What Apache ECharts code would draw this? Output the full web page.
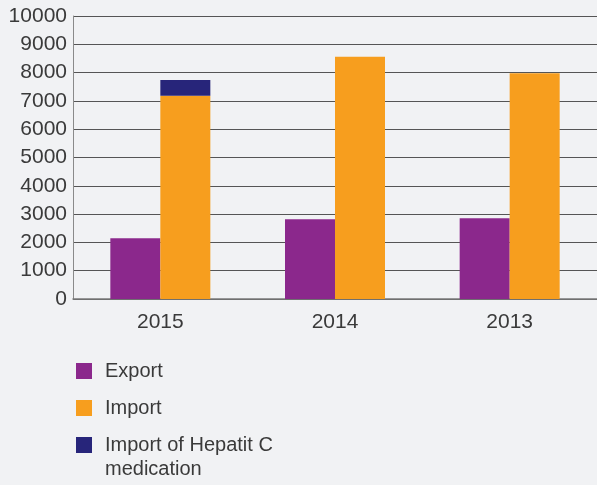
<!DOCTYPE html>
<html>
<head>
<meta charset="utf-8">
<script src="https://cdn.jsdelivr.net/npm/echarts@6/dist/echarts.min.js"></script>
<style>
  html, body { margin: 0; padding: 0; background: #f1f2f4; }
  #chart { width: 597px; height: 485px; }
</style>
</head>
<body>
<div id="chart"></div>
<script>
// Years shown on the category axis
const years = ['2015', '2014', '2013'];
// Values per year
const exportValues = [2150, 2820, 2850];
const importValues = [7180, 8560, 7980];
const hepatitCValues = [560, '-', '-'];
// Value axis ticks
const yMin = 0;
const yMax = 10000;
const yStep = 1000;

const FONT = '"Liberation Sans", Arial, sans-serif';
const TEXT = '#3a3a3a';

const chart = echarts.init(document.getElementById('chart'), null, { renderer: 'canvas' });

chart.setOption({
  backgroundColor: '#f1f2f4',
  animation: false,
  grid: { left: 73, right: 0, top: 16, bottom: 186, containLabel: false },
  xAxis: {
    type: 'category',
    data: years,
    axisLine: { lineStyle: { color: '#7a7a7a', width: 1.5 } },
    axisTick: { show: true, length: 0 },
    axisLabel: { color: TEXT, fontFamily: FONT, fontSize: 21, margin: 13 }
  },
  yAxis: {
    type: 'value',
    min: yMin,
    max: yMax,
    interval: yStep,
    axisLine: { show: true, lineStyle: { color: '#8a8a8a', width: 1 } },
    axisTick: { show: false },
    splitLine: { lineStyle: { color: '#555555', width: 1 } },
    axisLabel: {
      color: TEXT, fontFamily: FONT, fontSize: 21, margin: 6,
      formatter: function (v) { return String(v); }
    }
  },
  legend: [
    {
      orient: 'vertical',
      left: 76,
      top: 359,
      padding: 0,
      itemWidth: 16,
      itemHeight: 16,
      itemGap: 13,
      icon: 'rect',
      data: ['Export', 'Import'],
      textStyle: { color: TEXT, fontFamily: FONT, fontSize: 20, lineHeight: 24, padding: [0, 0, 0, 8] }
    },
    {
      orient: 'vertical',
      left: 76,
      top: 409,
      padding: 0,
      itemWidth: 16,
      itemHeight: 16,
      icon: 'rect',
      data: ['Import of Hepatit C medication'],
      // leading blank line keeps the first text line level with the swatch
      formatter: function () { return '\nImport of Hepatit C\nmedication'; },
      textStyle: { color: TEXT, fontFamily: FONT, fontSize: 20, lineHeight: 24, padding: [0, 0, 0, 8] }
    }
  ],
  series: [
    {
      name: 'Export',
      type: 'bar',
      data: exportValues,
      barWidth: 50,
      barGap: '0%',
      itemStyle: { color: '#8b288c' }
    },
    {
      name: 'Import',
      type: 'bar',
      stack: 'import',
      data: importValues,
      barWidth: 50,
      itemStyle: { color: '#f79e1e' }
    },
    {
      name: 'Import of Hepatit C medication',
      type: 'bar',
      stack: 'import',
      data: hepatitCValues,
      barWidth: 50,
      itemStyle: { color: '#27257a' }
    }
  ]
});
</script>
</body>
</html>
